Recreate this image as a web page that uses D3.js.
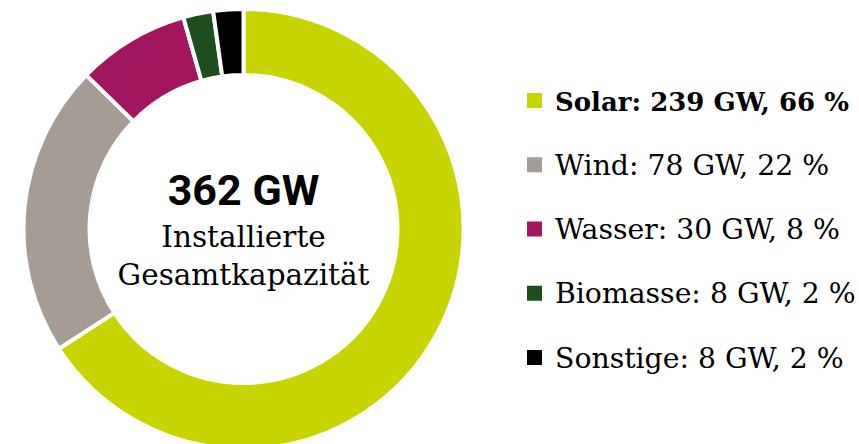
<html>
<head>
    <meta charset="utf-8">
    <title>Installierte Gesamtkapazität</title>
    <style>
        body {
            margin: 0;
            background: white;
        }
        .slab {
            font-family: "DejaVu Serif", serif;
        }
    </style>
    <script src="https://cdn.jsdelivr.net/npm/d3@7"></script>
</head>
<body>
    <div class="mainView"></div>
<script>
    // values
    let categories = ["Solar", "Wind", "Wasser", "Biomasse", "Sonstige"];
    let capacityGW = [239, 78, 30, 8, 8];
    let sharePct = [66, 22, 8, 2, 2];
    let colors = ["#c8d400", "#a59d95", "#a3155f", "#1e4d1e", "#000000"];
    let totalLabel = "362 GW";
    let centerLines = ["Installierte", "Gesamtkapazität"];

    function getChartConfig() {
        let width = 859;
        let height = 444;
        let cx = 243.5, cy = 229;
        let container = d3.select(".mainView")
            .append("svg")
            .attr("width", width)
            .attr("height", height)
        return { width, height, cx, cy, container };
    }

    function drawDonut(config) {
        let { container, cx, cy } = config;
        let data = categories.map((c, i) => ({ name: c, value: capacityGW[i], pct: sharePct[i] }))
        let pie = d3.pie().sort(null).value(d => d.value)
        let arc = d3.arc().innerRadius(154).outerRadius(220)
        let cScale = d3.scaleOrdinal().domain(categories).range(colors)

        let g = container.append("g")
            .attr("transform", "translate(" + [cx, cy] + ")")
        g.selectAll("path")
            .data(pie(data))
            .enter()
            .append("path")
            .attr("d", arc)
            .attr("fill", d => cScale(d.data.name))
            .attr("stroke", "white")
            .attr("stroke-width", 4)
            .attr("stroke-linejoin", "miter")

        g.append("text")
            .attr("text-anchor", "middle")
            .attr("y", -24)
            .style("font-family", "Roboto, sans-serif")
            .style("font-weight", "bold")
            .style("font-size", "43px")
            .text(totalLabel)
        g.selectAll(".centerLine")
            .data(centerLines)
            .enter()
            .append("text")
            .attr("class", "slab")
            .attr("text-anchor", "middle")
            .attr("y", (d, i) => 18 + i * 38)
            .style("font-size", "29.5px")
            .text(d => d)
        return { data, cScale }
    }

    function drawLegend(donut, config) {
        let { container } = config;
        let { data, cScale } = donut;
        let yScale = d3.scalePoint()
            .domain(categories)
            .range([100.5, 357.5])
        let row = container.selectAll(".legendRow")
            .data(data)
            .enter()
            .append("g")
            .attr("class", "legendRow")
            .attr("transform", d => "translate(527," + yScale(d.name) + ")")
        row.append("rect")
            .attr("x", 0)
            .attr("y", -7.5)
            .attr("width", 15)
            .attr("height", 15)
            .attr("fill", d => cScale(d.name))
        row.append("text")
            .attr("class", "slab")
            .attr("x", 28)
            .attr("y", 10)
            .style("font-size", (d, i) => i == 0 ? "26px" : "28.3px")
            .style("font-weight", (d, i) => i == 0 ? "bold" : "normal")
            .text(d => d.name + ": " + d.value + " GW, " + d.pct + " %")
    }

    let config = getChartConfig();
    let donut = drawDonut(config);
    drawLegend(donut, config);
</script>
</body>
</html>
